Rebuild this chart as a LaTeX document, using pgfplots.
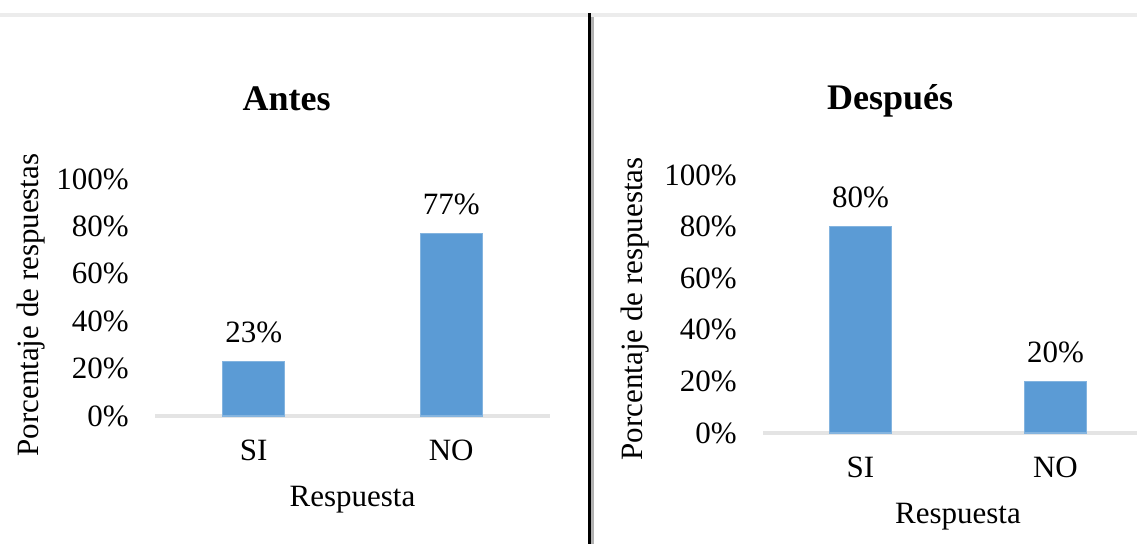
\documentclass[border=0pt]{standalone}
\usepackage{fontspec}
\setmainfont{Liberation Serif}
\usepackage{pgfplots}
\pgfplotsset{compat=1.18}
\definecolor{barblue}{HTML}{5B9BD5}
\definecolor{baseg}{HTML}{E4E4E4}
\pgfplotsset{
  mybars/.style={
    scale only axis, ybar, bar width=31pt, clip=false,
    xmin=-0.5, xmax=1.5, ymin=0, ymax=100,
    xtick={0,1}, xticklabels={SI,NO},
    ytick={0,20,40,60,80,100},
    yticklabels={0\%,20\%,40\%,60\%,80\%,100\%},
    axis line style={draw=none}, major tick length=0pt, tick style={draw=none},
    xticklabel style={anchor=base, inner sep=0pt, yshift=-22.5pt},
    yticklabel style={anchor=east, inner sep=0pt, xshift=-13pt},
    xlabel={Respuesta}, ylabel={Porcentaje de respuestas},
    xlabel style={at={(axis description cs:0.5,0)}, anchor=base, yshift=-45.5pt},
    every axis title shift=0pt,
    title style={anchor=base, font=\fontsize{18}{20}\selectfont\bfseries},
    nodes near coords={\pgfmathprintnumber[assume math mode=true]{\pgfplotspointmeta}\%},
    every node near coord/.append style={anchor=base, inner sep=0pt, yshift=9.5pt, text=black},
  }
}
\begin{document}
\begin{tikzpicture}[font=\fontsize{15.5}{18}\selectfont]
\useasboundingbox (0,0) rectangle (568.5pt,272pt);
\fill[white] (0,0) rectangle (568.5pt,272pt);
\clip (0,0) rectangle (568.5pt,272pt);
\draw[line width=1.6pt, color=gray!15] (0,264.5pt) -- (568.5pt,264.5pt);
\draw[line width=1.6pt, black] (294.75pt,0) -- (294.75pt,265.3pt);
\draw[line width=1.2pt, gray!60] (296.3pt,0) -- (296.3pt,263.7pt);

\begin{axis}[mybars, at={(77.5pt,64pt)}, anchor=south west,
  width=197.5pt, height=118.5pt,
  title={Antes}, title style={at={(axis description cs:0.333,1.291)}},
  ylabel style={at={(axis description cs:-0.296,0.468)}, anchor=base}]
  \draw[baseg, line width=2.2pt] (axis cs:-0.5,0) -- (axis cs:1.5,0);
  \addplot[fill=barblue, draw=barblue!75!white, line width=0.6pt]
    coordinates {(0,23) (1,77)};
\end{axis}

\begin{axis}[mybars, at={(381.5pt,55.5pt)}, anchor=south west,
  width=195pt, height=129pt,
  title={Después}, title style={at={(axis description cs:0.326,1.252)}},
  ylabel style={at={(axis description cs:-0.310,0.481)}, anchor=base}]
  \draw[baseg, line width=2.2pt] (axis cs:-0.5,0) -- (axis cs:1.5,0);
  \addplot[fill=barblue, draw=barblue!75!white, line width=0.6pt]
    coordinates {(0,80) (1,20)};
\end{axis}
\end{tikzpicture}
\end{document}
